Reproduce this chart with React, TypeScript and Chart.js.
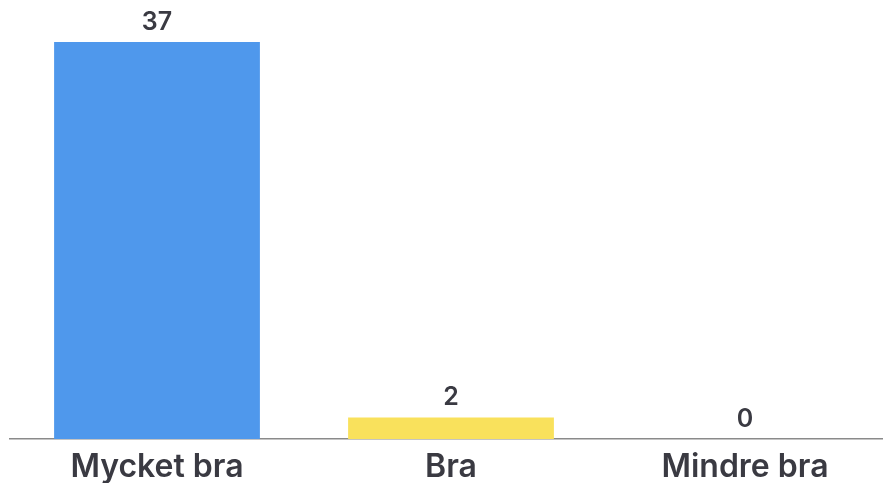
import React, { useEffect, useRef } from "react";
import { Chart, registerables } from "chart.js";

Chart.register(...registerables);

const categories = ["Mycket bra", "Bra", "Mindre bra"];
const values = [37, 2, 0];
const barColors = ["#4F98EC", "#F9E15C", "#F9E15C"];

const valueLabels = {
  id: "valueLabels",
  afterDatasetsDraw(chart: any) {
    const ctx = chart.ctx;
    const meta = chart.getDatasetMeta(0);
    ctx.save();
    ctx.font = "600 25px Inter";
    ctx.fillStyle = "#3a3a42";
    ctx.textAlign = "center";
    ctx.textBaseline = "middle";
    meta.data.forEach((bar: any, i: number) => {
      ctx.fillText(String(values[i]), bar.x, bar.y - 20);
    });
    ctx.restore();
  },
};

export default function App() {
  const ref = useRef<HTMLCanvasElement>(null);
  useEffect(() => {
    if (!ref.current) return;
    const chart = new Chart(ref.current, {
      type: "bar",
      data: {
        labels: categories,
        datasets: [
          {
            data: values,
            backgroundColor: barColors,
            categoryPercentage: 1,
            barPercentage: 0.7,
          },
        ],
      },
      options: {
        animation: false,
        responsive: true,
        maintainAspectRatio: false,
        layout: { padding: { top: 42, left: 10, right: 0, bottom: -12 } },
        plugins: { legend: { display: false }, tooltip: { enabled: false } },
        scales: {
          y: { display: false, min: 0, max: 37 },
          x: {
            grid: { display: false, drawTicks: false },
            border: { display: true, color: "#8a8a8a", width: 1.5 },
            ticks: {
              color: "#3a3a42",
              font: { family: "Inter", size: 32, weight: 600, lineHeight: 1 },
              padding: 12,
            },
          },
        },
      },
      plugins: [valueLabels],
    });
    return () => chart.destroy();
  }, []);
  return (
    <div style={{ position: "fixed", left: 0, top: 0, width: 883, height: 483, overflow: "hidden", background: "#fff" }}>
      <div style={{ position: "absolute", left: 0, top: 0, width: 892, height: 483 }}>
        <canvas ref={ref} />
      </div>
    </div>
  );
}
